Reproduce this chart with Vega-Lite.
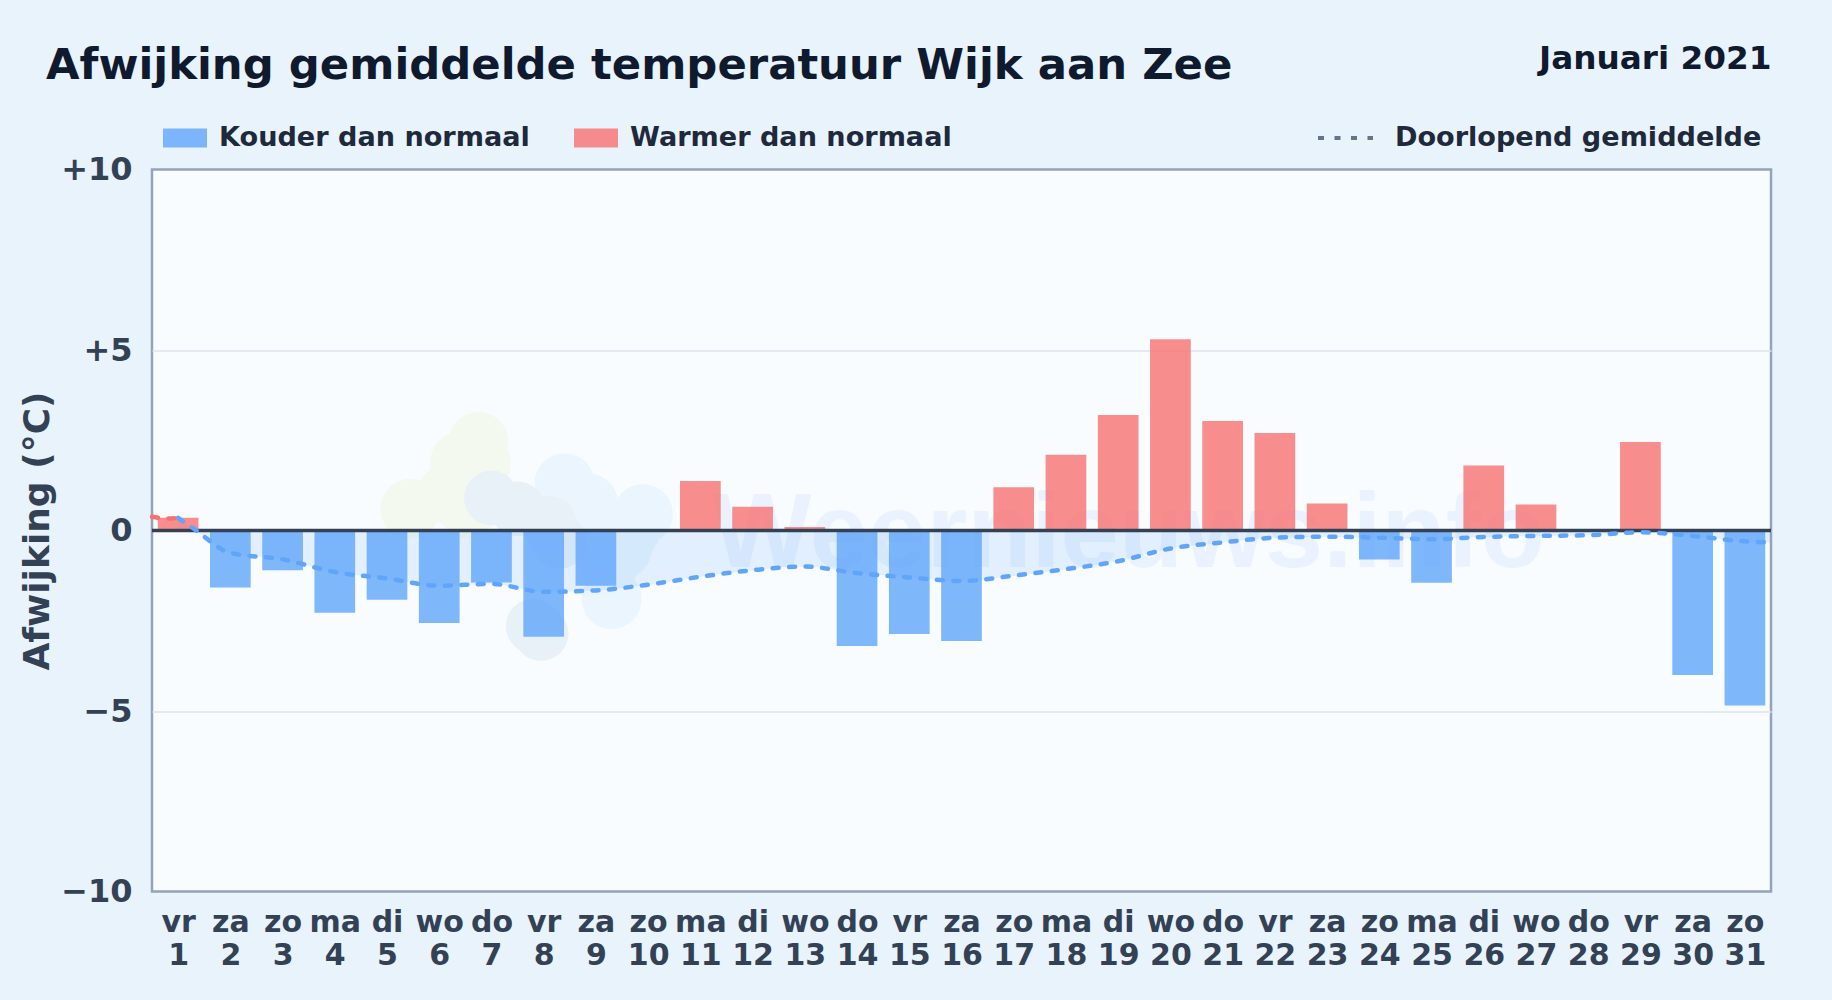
{
"$schema":"https://vega.github.io/schema/vega-lite/v6.json",
"width":1619,"height":722,
"autosize":"none",
"padding":{"left":152,"top":169.5,"right":61,"bottom":108.5},
"background":"#e8f3fc",
"title":{"text":"Afwijking gemiddelde temperatuur Wijk aan Zee","anchor":"start","frame":"group","dx":-106,"offset":0,"dy":46,"fontSize":43.35,"font":"DejaVu Sans","fontWeight":"bold","color":"#0f1a2e"},
"config":{"font":"DejaVu Sans","view":{"fill":"#f8fcff","stroke":"#94a3b8","strokeWidth":2.5}},
"datasets":{
"bars":[
{"dag":1,"afwijking":0.35,"soort":"Warmer dan normaal"},{"dag":2,"afwijking":-1.58,"soort":"Kouder dan normaal"},{"dag":3,"afwijking":-1.1,"soort":"Kouder dan normaal"},{"dag":4,"afwijking":-2.28,"soort":"Kouder dan normaal"},{"dag":5,"afwijking":-1.92,"soort":"Kouder dan normaal"},{"dag":6,"afwijking":-2.56,"soort":"Kouder dan normaal"},{"dag":7,"afwijking":-1.44,"soort":"Kouder dan normaal"},{"dag":8,"afwijking":-2.94,"soort":"Kouder dan normaal"},{"dag":9,"afwijking":-1.53,"soort":"Kouder dan normaal"},{"dag":11,"afwijking":1.37,"soort":"Warmer dan normaal"},{"dag":12,"afwijking":0.66,"soort":"Warmer dan normaal"},{"dag":13,"afwijking":0.1,"soort":"Warmer dan normaal"},{"dag":14,"afwijking":-3.2,"soort":"Kouder dan normaal"},{"dag":15,"afwijking":-2.87,"soort":"Kouder dan normaal"},{"dag":16,"afwijking":-3.06,"soort":"Kouder dan normaal"},{"dag":17,"afwijking":1.2,"soort":"Warmer dan normaal"},{"dag":18,"afwijking":2.1,"soort":"Warmer dan normaal"},{"dag":19,"afwijking":3.2,"soort":"Warmer dan normaal"},{"dag":20,"afwijking":5.3,"soort":"Warmer dan normaal"},{"dag":21,"afwijking":3.03,"soort":"Warmer dan normaal"},{"dag":22,"afwijking":2.7,"soort":"Warmer dan normaal"},{"dag":23,"afwijking":0.75,"soort":"Warmer dan normaal"},{"dag":24,"afwijking":-0.8,"soort":"Kouder dan normaal"},{"dag":25,"afwijking":-1.45,"soort":"Kouder dan normaal"},{"dag":26,"afwijking":1.8,"soort":"Warmer dan normaal"},{"dag":27,"afwijking":0.72,"soort":"Warmer dan normaal"},{"dag":29,"afwijking":2.45,"soort":"Warmer dan normaal"},{"dag":30,"afwijking":-4.0,"soort":"Kouder dan normaal"},{"dag":31,"afwijking":-4.85,"soort":"Kouder dan normaal"}],
"gemiddelde":[
{"dag":1,"gem":0.35},{"dag":1.3,"gem":0.05},{"dag":2,"gem":-0.62},{"dag":3,"gem":-0.8},{"dag":4,"gem":-1.15},{"dag":5,"gem":-1.33},{"dag":6,"gem":-1.53},{"dag":7,"gem":-1.48},{"dag":8,"gem":-1.7},{"dag":9,"gem":-1.66},{"dag":10,"gem":-1.5},{"dag":11,"gem":-1.28},{"dag":12,"gem":-1.1},{"dag":13,"gem":-1.0},{"dag":14,"gem":-1.18},{"dag":15,"gem":-1.3},{"dag":16,"gem":-1.4},{"dag":17,"gem":-1.25},{"dag":18,"gem":-1.07},{"dag":19,"gem":-0.85},{"dag":20,"gem":-0.5},{"dag":21,"gem":-0.33},{"dag":22,"gem":-0.2},{"dag":23,"gem":-0.17},{"dag":24,"gem":-0.2},{"dag":25,"gem":-0.24},{"dag":26,"gem":-0.18},{"dag":27,"gem":-0.15},{"dag":28,"gem":-0.13},{"dag":29,"gem":-0.05},{"dag":30,"gem":-0.15},{"dag":31,"gem":-0.3},{"dag":31.5,"gem":-0.33}],
"start":[{"dag":0.5,"gem":0.38},{"dag":0.8,"gem":0.33},{"dag":1,"gem":0.35}],
"olijf":[{"dag":6.75,"w":2.45},{"dag":6.8,"w":1.85},{"dag":5.45,"w":0.6},{"dag":6.15,"w":1.0},{"dag":6.4,"w":1.9},{"dag":6.55,"w":0.6}],
"grijs":[{"dag":7.0,"w":0.9},{"dag":7.5,"w":0.6},{"dag":8.1,"w":0.2},{"dag":7.8,"w":-2.65},{"dag":7.95,"w":-2.85},{"dag":8.3,"w":-0.3}],
"licht":[{"dag":8.4,"w":1.3},{"dag":8.85,"w":0.75},{"dag":9.65,"w":0.0},{"dag":9.3,"w":-1.9},{"dag":9.25,"w":-0.9},{"dag":9.9,"w":0.45},{"dag":9.5,"w":-0.5}]
},
"layer":[
{"data":{"name":"olijf"},"mark":{"type":"circle","size":3600,"color":"#f4f9ef","opacity":1},
 "encoding":{"x":{"field":"dag","type":"quantitative","scale":{"domain":[0.5,31.5],"nice":false,"padding":0,"zero":false},"axis":null},
 "y":{"field":"w","type":"quantitative","scale":{"domain":[-10,10],"nice":false,"zero":false},
   "axis":{"values":[-10,-5,0,5,10],"title":"Afwijking (°C)","titleFontSize":36,"titleFontWeight":"bold","titleColor":"#334155","titleX":-96,"titleY":361,"domain":false,"ticks":false,"grid":true,"gridColor":"#dde5ec","gridWidth":1.5,"gridOpacity":{"condition":{"test":"abs(datum.value)==10","value":0},"value":1},"labelPadding":20,"labelFontSize":32,"labelFontWeight":"bold","labelColor":"#334155",
    "labelExpr":"datum.value>0?'+'+datum.value:(datum.value<0?'−'+(-datum.value):'0')"}}}},
{"data":{"name":"licht"},"mark":{"type":"circle","size":3600,"color":"#eaf5fe","opacity":1},
 "encoding":{"x":{"field":"dag","type":"quantitative","axis":null},"y":{"field":"w","type":"quantitative"}}},
{"data":{"name":"grijs"},"mark":{"type":"circle","size":3000,"color":"#e8f0f8","opacity":1},
 "encoding":{"x":{"field":"dag","type":"quantitative","axis":null},"y":{"field":"w","type":"quantitative"}}},
{"data":{"values":[{"merk":"Weernieuws.info"}]},
 "mark":{"type":"text","fontSize":105,"font":"Liberation Sans","fontWeight":"bold","color":"#3b82f6","opacity":0.07},
 "encoding":{"x":{"datum":19.2,"type":"quantitative","axis":null},"y":{"datum":-0.13,"type":"quantitative"},"text":{"field":"merk"}}},
{"data":{"name":"gemiddelde"},
 "mark":{"type":"area","interpolate":"monotone","color":"#60a5fa","opacity":0.15},
 "encoding":{"x":{"field":"dag","type":"quantitative","axis":null},"y":{"field":"gem","type":"quantitative"},"y2":{"datum":0}}},
{"data":{"name":"bars"},
 "mark":{"type":"bar","width":40.7,"opacity":0.8},
 "encoding":{
  "x":{"field":"dag","type":"quantitative",
   "axis":{"values":[1,2,3,4,5,6,7,8,9,10,11,12,13,14,15,16,17,18,19,20,21,22,23,24,25,26,27,28,29,30,31],"orient":"bottom","title":null,"grid":false,"domain":false,"ticks":false,"labelOverlap":false,"labelPadding":16,"labelFontSize":30,"labelFontWeight":"bold","labelColor":"#334155","labelLineHeight":33,"labelFlush":false,
    "labelExpr":"[['vr','za','zo','ma','di','wo','do'][(datum.value-1)%7],''+datum.value]"}},
  "y":{"field":"afwijking","type":"quantitative"},
  "y2":{"datum":0},
  "color":{"field":"soort","type":"nominal","scale":{"domain":["Kouder dan normaal","Warmer dan normaal"],"range":["#60a5fa","#f87171"]},
   "legend":{"orient":"none","legendX":11,"legendY":-54,"direction":"horizontal","title":null,"symbolType":"M-1,-0.43H1V0.43H-1Z","symbolSize":1936,"symbolStrokeWidth":0,"labelFontSize":27.1,"labelFontWeight":"bold","labelColor":"#1e293b","labelOffset":12,"labelLimit":600,"columnPadding":44}}
 }},
{"data":{"values":[{"nul":0}]},"mark":{"type":"rule","color":"#334155","strokeWidth":3.5},"encoding":{"y":{"field":"nul","type":"quantitative"},"x":{"datum":0.5,"type":"quantitative","axis":null},"x2":{"datum":31.5}}},
{"data":{"name":"start"},
 "mark":{"type":"line","color":"#f87171","strokeWidth":4.5,"strokeCap":"round","interpolate":"monotone","strokeDash":[6,10.5]},
 "encoding":{"x":{"field":"dag","type":"quantitative","axis":null},"y":{"field":"gem","type":"quantitative"}}},
{"data":{"name":"gemiddelde"},
 "mark":{"type":"line","color":"#60a5fa","strokeWidth":4.5,"strokeCap":"round","interpolate":"monotone"},
 "encoding":{"x":{"field":"dag","type":"quantitative",
   "axis":{"orient":"top","domain":false,"ticks":false,"labels":false,"grid":false,"title":"Januari 2021","titleFontSize":32.7,"titleFontWeight":"bold","titleColor":"#0f1a2e","titleAnchor":"end","titleX":1619,"titleY":-94,"titleAlign":"right"}},
  "y":{"field":"gem","type":"quantitative"},
  "strokeDash":{"datum":"Doorlopend gemiddelde","type":"nominal","scale":{"domain":["Doorlopend gemiddelde"],"range":[[6,10.5]]},
   "legend":{"orient":"none","legendX":1164,"legendY":-61,"title":null,"symbolType":"stroke","symbolSize":3025,"symbolStrokeWidth":4,"symbolStrokeColor":"#64748b","labelFontSize":27.1,"labelFontWeight":"bold","labelColor":"#1e293b","labelOffset":20,"labelLimit":600}}}}
],
"resolve":{"axis":{"x":"independent"}}
}
